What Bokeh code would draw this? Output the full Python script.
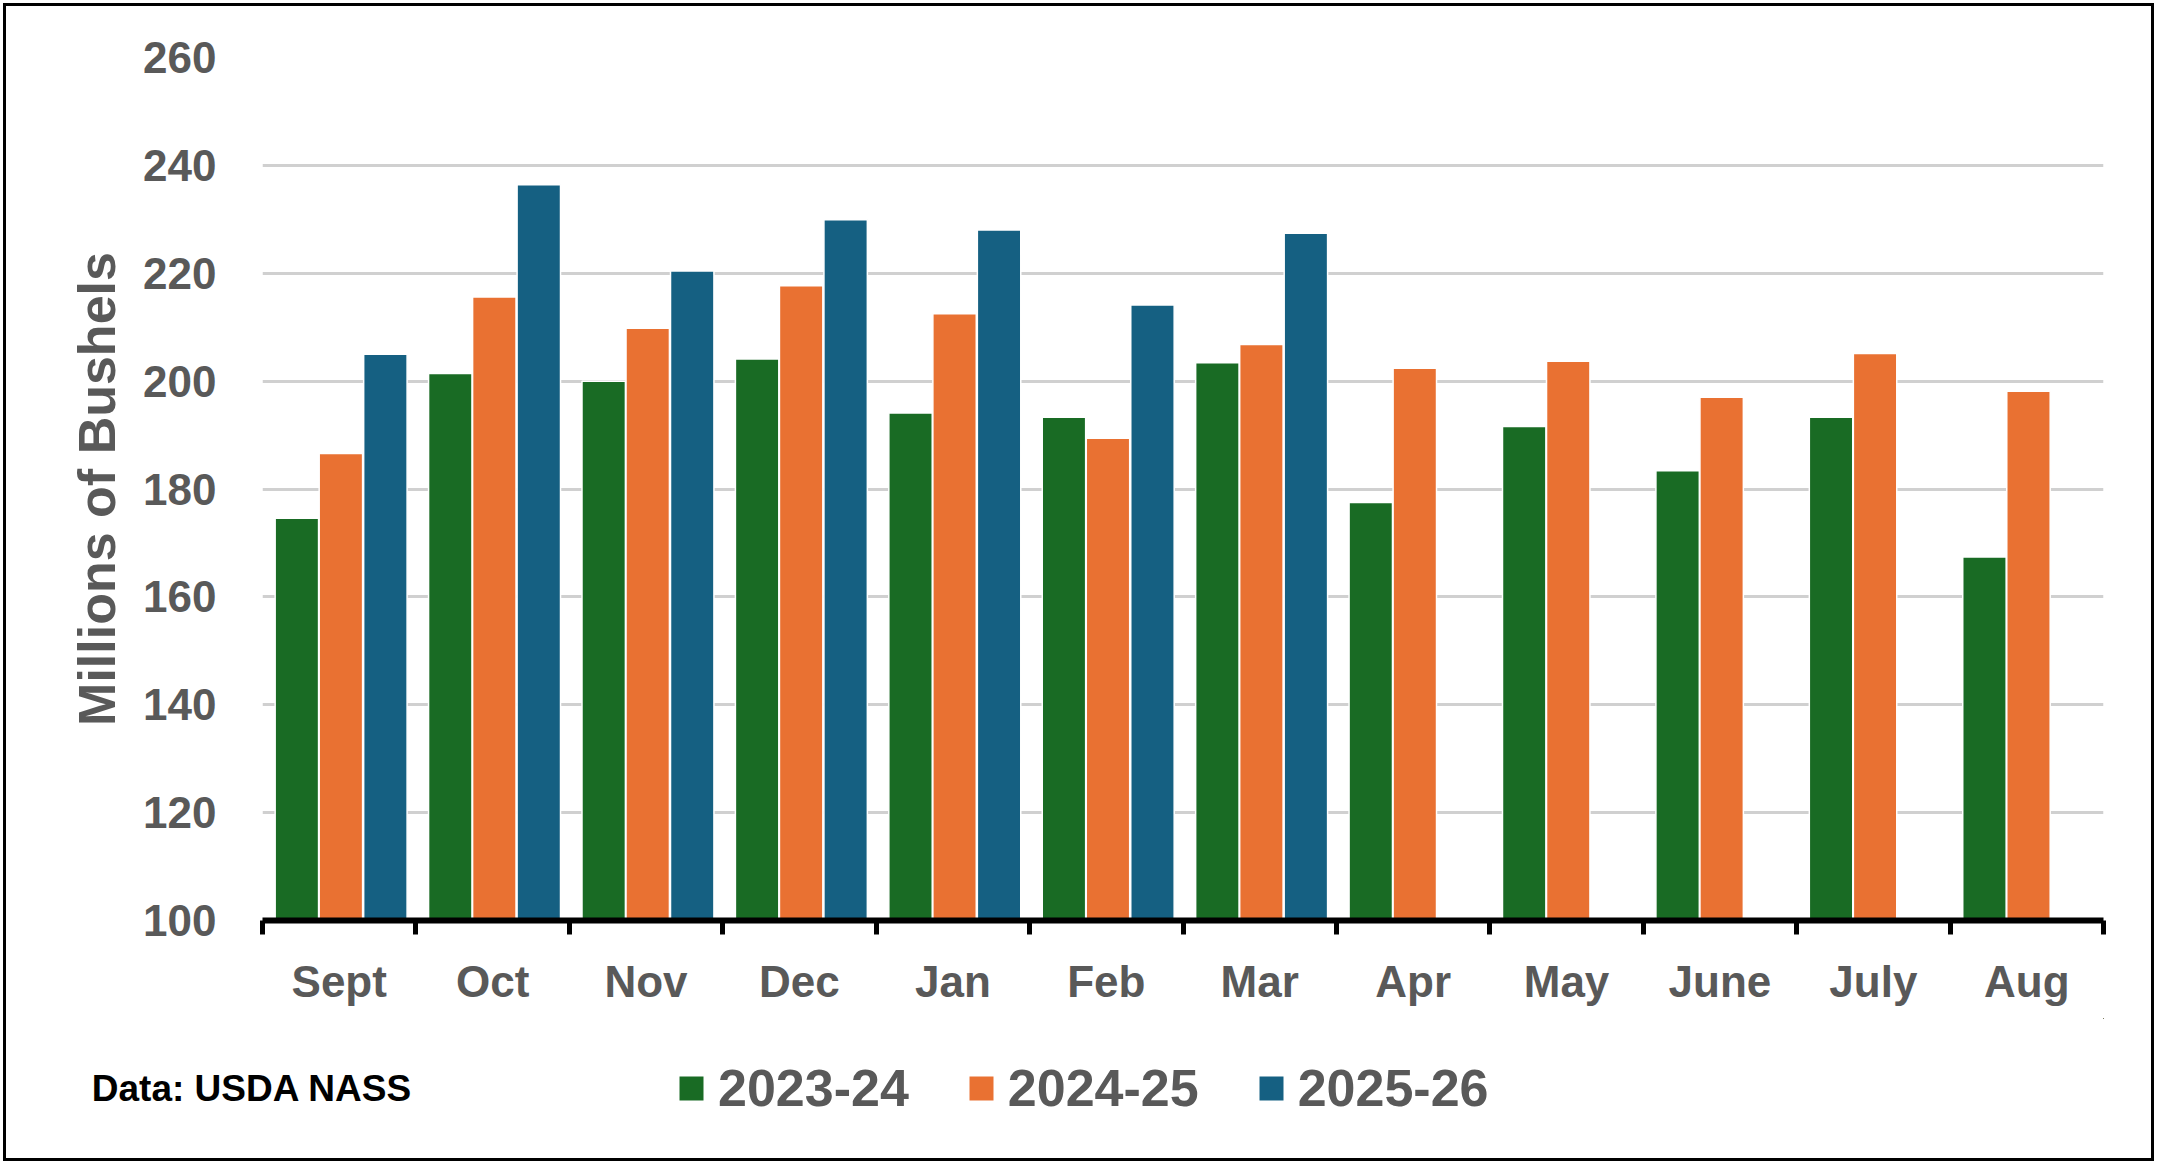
from bokeh.plotting import figure
from bokeh.layouts import column
from bokeh.models import (ColumnDataSource, Range1d, FixedTicker, Legend, LegendItem)
from bokeh.embed import file_html
from bokeh.resources import INLINE

months = ["Sept", "Oct", "Nov", "Dec", "Jan", "Feb", "Mar", "Apr", "May", "June", "July", "Aug"]
series_names = ["2023-24", "2024-25", "2025-26"]
v2023_24 = [174.6, 201.4, 200.0, 204.1, 194.1, 193.3, 203.4, 177.5, 191.6, 183.4, 193.3, 167.4]
v2024_25 = [186.6, 215.6, 209.8, 217.7, 212.5, 189.4, 206.8, 202.4, 203.7, 197.0, 205.1, 198.1]
v2025_26 = [205.0, 236.4, 220.4, 229.9, 228.0, 214.1, 227.4, None, None, None, None, None]
y_ticks = [100, 120, 140, 160, 180, 200, 220, 240, 260]
colors = ["#196B24", "#E97132", "#156082"]
offsets = [-0.276, 0.011, 0.301]
source_note = "Data: USDA NASS"

TXT = "#595959"
FONT = "Liberation Sans"
W = 2145

n = len(months)
centers = [i + 0.5 for i in range(n)]

p = figure(width=W, height=1012, x_range=Range1d(0, n), y_range=Range1d(100, 260),
           output_backend="svg", toolbar_location=None,
           min_border_left=256, min_border_right=48, min_border_top=51, min_border_bottom=98)
p.outline_line_color = None
p.background_fill_color = "white"
p.border_fill_color = "white"

p.xgrid.visible = False
p.ygrid.grid_line_color = "#D0D0D0"
p.ygrid.grid_line_width = 3
p.ygrid.ticker = FixedTicker(ticks=y_ticks)

ya = p.yaxis[0]
ya.ticker = FixedTicker(ticks=y_ticks)
ya.axis_line_color = None
ya.major_tick_line_color = None
ya.minor_tick_line_color = None
ya.major_label_standoff = 40
ya.major_label_text_font = FONT
ya.major_label_text_font_style = "bold"
ya.major_label_text_font_size = "44px"
ya.major_label_text_color = TXT
ya.axis_label = "Millions of Bushels"
ya.axis_label_text_font = FONT
ya.axis_label_text_font_style = "bold"
ya.axis_label_text_font_size = "52px"
ya.axis_label_text_color = TXT
ya.axis_label_standoff = 14

xa = p.xaxis[0]
xa.ticker = FixedTicker(ticks=centers, minor_ticks=list(range(n + 1)))
xa.major_label_overrides = {c: m for c, m in zip(centers, months)}
xa.axis_line_color = "black"
xa.axis_line_width = 6
xa.major_tick_line_color = None
xa.major_tick_out = 14
xa.major_tick_in = 0
xa.minor_tick_line_color = "black"
xa.minor_tick_line_width = 5
xa.minor_tick_out = 14
xa.minor_tick_in = 0
xa.major_label_standoff = 22
xa.major_label_text_font = FONT
xa.major_label_text_font_style = "bold"
xa.major_label_text_font_size = "44px"
xa.major_label_text_color = TXT

sources = []
for vals, col, off in zip([v2023_24, v2024_25, v2025_26], colors, offsets):
    xs = [c + off for c, v in zip(centers, vals) if v is not None]
    ys = [v for v in vals if v is not None]
    src = ColumnDataSource(dict(x=xs, value=ys))
    p.vbar(x="x", top="value", bottom=0, width=0.283,
           source=src, fill_color=col, line_color="white", line_width=1.5)
    sources.append(src)

# footer strip: legend and data source note
p2 = figure(width=W, height=140, x_range=Range1d(0, 1), y_range=Range1d(0, 1),
            output_backend="svg", toolbar_location=None, x_axis_location=None,
            min_border_left=256, min_border_right=48, min_border_top=0, min_border_bottom=0)
p2.grid.visible = False
p2.outline_line_color = None
p2.background_fill_color = "white"
p2.border_fill_color = "white"

na = p2.yaxis[0]
na.ticker = FixedTicker(ticks=[0.5])
na.major_label_overrides = {0.5: source_note}
na.axis_line_color = None
na.major_tick_line_color = None
na.minor_tick_line_color = None
na.major_tick_out = 0
na.major_tick_in = 0
na.major_label_standoff = -150
na.major_label_text_font = FONT
na.major_label_text_font_style = "bold"
na.major_label_text_font_size = "37px"
na.major_label_text_color = "black"

# legend swatches: same series with zero-size glyphs so only the legend shows them
legend_renderers = []
for src, col in zip(sources, colors):
    legend_renderers.append(p2.vbar(x="x", top="value", bottom="value", width=0, source=src,
                                    fill_color=col, line_color=None))

legend = Legend(items=[LegendItem(label=s, renderers=[r]) for s, r in zip(series_names, legend_renderers)],
                orientation="horizontal", location=(676 - 262, 40))
legend.glyph_width = 30
legend.glyph_height = 30
legend.label_standoff = 12
legend.spacing = 57
legend.padding = 0
legend.margin = 0
legend.border_line_color = None
legend.background_fill_alpha = 0
legend.label_text_font = FONT
legend.label_text_font_style = "bold"
legend.label_text_font_size = "52px"
legend.label_text_color = TXT
p2.add_layout(legend, "center")

layout = column(p, p2, spacing=0, styles={"border": "3px solid black", "margin": "3px"})

open("out.html", "w").write(file_html(layout, INLINE))
